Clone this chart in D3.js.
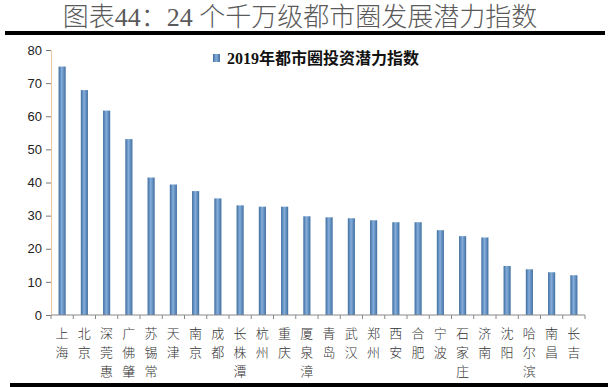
<!DOCTYPE html>
<html><head><meta charset="utf-8">
<script src="https://cdn.jsdelivr.net/npm/d3@7"></script>
<style>body{margin:0;background:#fff}svg{display:block}</style>
</head><body>
<svg id="c" width="612" height="387"></svg>
<script>
const title = "图表44：24 个千万级都市圈发展潜力指数";
const seriesName = "2019年都市圈投资潜力指数";
const categories = ["上海","北京","深莞惠","广佛肇","苏锡常","天津","南京","成都","长株潭","杭州","重庆","厦泉漳","青岛","武汉","郑州","西安","合肥","宁波","石家庄","济南","沈阳","哈尔滨","南昌","长吉"];
const values = [75.0,67.9,61.7,53.1,41.5,39.4,37.4,35.2,33.1,32.7,32.7,29.8,29.5,29.2,28.6,28.0,28.0,25.6,23.8,23.4,14.8,13.8,12.9,12.0];
const yTicks = [0,10,20,30,40,50,60,70,80];

const svg = d3.select("#c");
const defs = svg.append("defs");
const g1 = defs.append("linearGradient").attr("id","bar").attr("x1","0").attr("x2","1").attr("y1","0").attr("y2","0");
g1.append("stop").attr("offset","0").attr("stop-color","#3b6c9e");
g1.append("stop").attr("offset","0.45").attr("stop-color","#86aedc");
g1.append("stop").attr("offset","1").attr("stop-color","#3f6fa0");

// title & rules
svg.append("text").attr("x",300).attr("y",26).attr("text-anchor","middle")
  .attr("font-family","'Liberation Serif','Noto Sans CJK SC',serif").attr("font-weight",300)
  .attr("font-size",26).attr("fill","#5a5a5a").text(title);
svg.append("rect").attr("x",5).attr("y",31).attr("width",600).attr("height",4).attr("fill","#000");
svg.append("rect").attr("x",10).attr("y",383).attr("width",598).attr("height",4).attr("fill","#000");

const x = d3.scaleBand().domain(categories).range([51,585]).paddingInner(0.68).paddingOuter(0.34);
const y = d3.scaleLinear().domain([0,80]).range([315,50]);

// bars
svg.append("g").selectAll("rect").data(values).join("rect")
  .attr("x",(d,i)=>x(categories[i])).attr("width",x.bandwidth())
  .attr("y",d=>y(d)).attr("height",d=>y(0)-y(d)).attr("fill","url(#bar)");

// y axis
const ya = svg.append("g").attr("transform","translate(51,0)")
  .call(d3.axisLeft(y).tickValues(yTicks).tickSize(5).tickPadding(4));
ya.select(".domain").attr("stroke","#e8c9a0");
ya.selectAll(".tick line").attr("stroke","#777");
ya.selectAll("text").attr("font-family","'Liberation Sans',Arial,sans-serif").attr("font-size",13).attr("fill","#222");

// x axis
const step = x.step();
const xa = svg.append("g").attr("transform","translate(0,315)");
xa.append("line").attr("x1",51).attr("x2",585).attr("stroke","#888");
xa.selectAll("line.t").data(d3.range(categories.length+1)).join("line").attr("class","t")
  .attr("x1",i=>51+i*step).attr("x2",i=>51+i*step).attr("y1",0).attr("y2",4).attr("stroke","#888");
categories.forEach((c,i)=>{
  const cx = x(c)+x.bandwidth()/2;
  Array.from(c).forEach((ch,j)=>{
    xa.append("text").attr("x",cx).attr("y",23+j*19).attr("text-anchor","middle")
      .attr("font-family","'Noto Sans CJK SC',sans-serif").attr("font-weight",300)
      .attr("font-size",13).attr("fill","#333").text(ch);
  });
});

// legend
svg.append("rect").attr("x",213).attr("y",54).attr("width",7).attr("height",8).attr("fill","url(#bar)");
svg.append("text").attr("x",227).attr("y",64).attr("font-family","'Liberation Serif','Noto Sans CJK SC',serif")
  .attr("font-weight","bold").attr("font-size",16).attr("fill","#111").text(seriesName);
</script>
</body></html>
